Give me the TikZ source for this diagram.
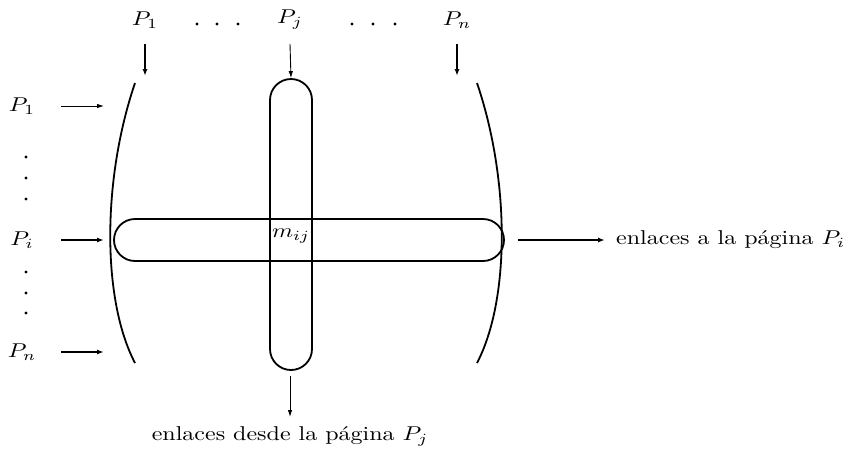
\documentclass[tikz,border=0pt]{standalone}
\usepackage{graphicx}
\usetikzlibrary{arrows.meta}
\newcommand{\bigt}[1]{\scalebox{2.4}[2.0]{#1}}
\begin{document}
\begin{tikzpicture}[x=1pt,y=-1pt,
  lbl/.style={inner sep=0pt},
  capsule/.style={draw,line width=1.8pt,inner sep=0pt},
  brk/.style={line width=1.8pt},
  thinarr/.style={line width=0.9pt,-{Latex[length=7pt,width=4.5pt]}},
  midarr/.style={line width=1.4pt,-{Latex[length=7pt,width=5pt]}},
  thickarr/.style={line width=2.3pt,-{Latex[length=7pt,width=5pt]}},
  dotty/.style={fill,radius=1.7pt}]
\useasboundingbox (0,0) rectangle (853,448);
% top labels
\node[lbl] (t1) at (145,20) {\bigt{$P_1$}};
\node[lbl] (tj) at (290,20) {\bigt{$P_j$}};
\node[lbl] (tn) at (457,20) {\bigt{$P_n$}};
\foreach \x in {197,217,238,352,373,395} \fill[dotty] (\x,24) circle;
% left labels
\node[lbl] (l1) at (22,106) {\bigt{$P_1$}};
\node[lbl] (li) at (22,240) {\bigt{$P_i$}};
\node[lbl] (ln) at (22,352) {\bigt{$P_n$}};
\foreach \y in {157,178,199,272,293,313} \fill[dotty] (26,\y) circle;
% capsules
\node[capsule,minimum width=42pt,minimum height=291pt,rounded corners=21pt] (vcap) at (291,224.5) {};
\node[capsule,minimum width=390pt,minimum height=42pt,rounded corners=21pt] (hcap) at (309,240) {};
\node[lbl] (m) at (291,236) {\bigt{$m_{ij}$}};
% brackets
\draw[brk] (135,83) .. controls (102,180) and (102,300) .. (135,363);
\draw[brk] (477,83) .. controls (510,180) and (510,300) .. (477,363);
% coordinates for arrows
\coordinate (t1s) at (145,44); \coordinate (t1e) at (145,76);
\coordinate (tjs) at (290,44);
\coordinate (tns) at (457,44); \coordinate (tne) at (457,76);
\coordinate (l1s) at (61,106); \coordinate (l1e) at (104,106);
\coordinate (lis) at (61,240); \coordinate (lie) at (104,240);
\coordinate (lns) at (61,352); \coordinate (lne) at (104,352);
\draw[thickarr] (t1s) -- (t1e);
\draw[thinarr] (tjs) -- (vcap.north);
\draw[thickarr] (tns) -- (tne);
\draw[thinarr] (l1s) -- (l1e);
\draw[midarr] (lis) -- (lie);
\draw[thickarr] (lns) -- (lne);
% outputs
\node[lbl,anchor=west] (out1) at (616,240) {\bigt{enlaces a la página $P_i$}};
\coordinate (ors) at (518,240);
\coordinate (ore) at (605,240);
\draw[thickarr] (ors) -- (ore);
\node[lbl] (out2) at (290,436) {\bigt{enlaces desde la página $P_j$}};
\coordinate (obs) at (290,376);
\coordinate (obe) at (290,417);
\draw[thinarr] (obs) -- (obe);
\end{tikzpicture}
\end{document}
